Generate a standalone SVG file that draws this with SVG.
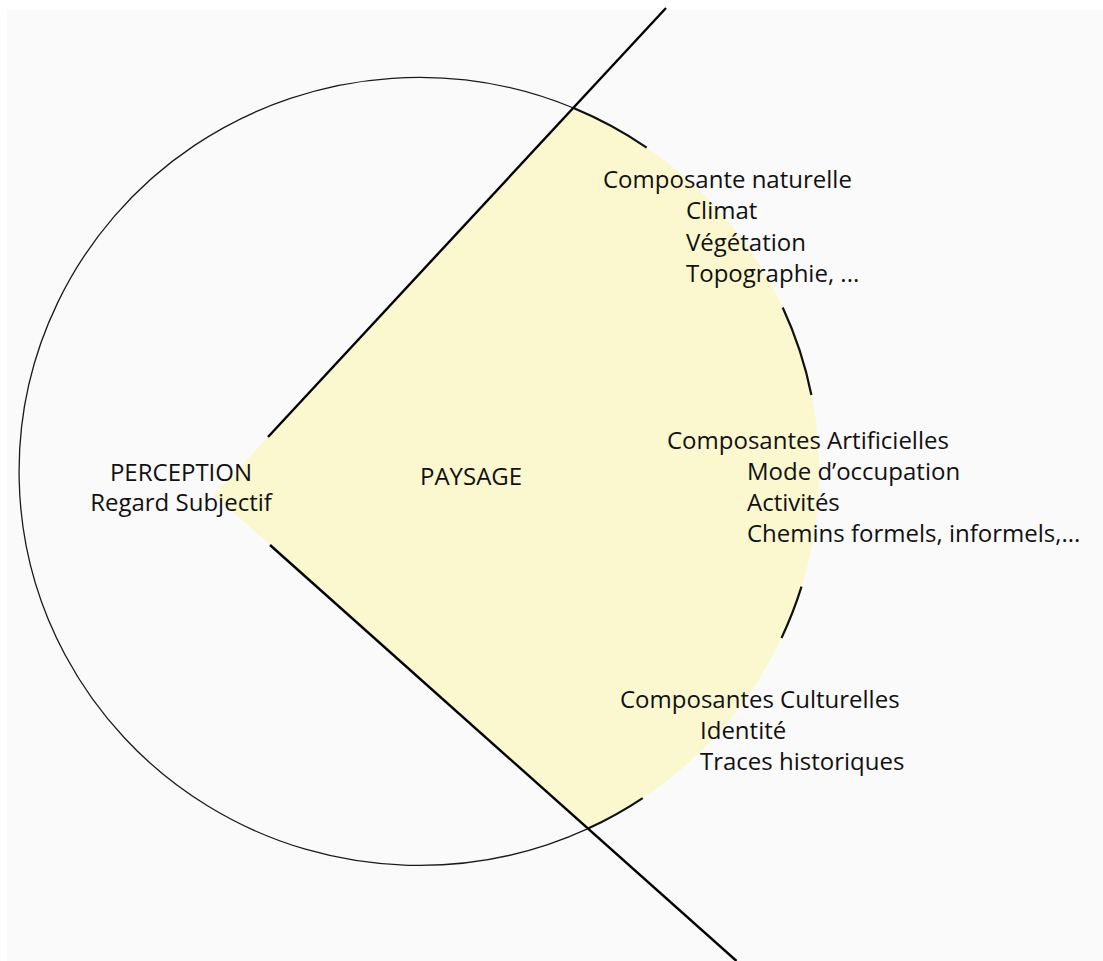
<svg xmlns="http://www.w3.org/2000/svg" width="1103" height="961" viewBox="0 0 1103 961">
  <style>
    .lbl { font-family: "Open Sans", "Liberation Sans", sans-serif; font-size: 24px; fill: #111; }
    .mid { text-anchor: middle; }
    .axis { stroke: #000; stroke-width: 2.4; fill: none; stroke-linecap: butt; }
    .thin { stroke: #1a1a1a; stroke-width: 1.3; fill: none; }
    .thick { stroke: #111; stroke-width: 2.2; fill: none; }
  </style>
  <rect x="0" y="0" width="1103" height="961" fill="#ffffff"/>
  <rect x="7" y="10" width="1096" height="951" fill="#fafafa"/>

  <g id="paysage-sector">
    <path d="M214,495 L573.5,108 A400,394 0 0,1 588,828.6 Z" fill="#fbf8cf"/>
  </g>

  <g id="perception-circle">
    <path class="thin" d="M588,828.6 A400,394 0 1,1 573.5,108"/>
    <path class="thick" d="M573.5,108 A400,394 0 0,1 646.7,147.6"/>
    <path class="thick" d="M782.7,307.5 A400,394 0 0,1 811.4,395"/>
    <path class="thick" d="M801.5,586.7 A400,394 0 0,1 781.5,638"/>
    <path class="thick" d="M642.7,798.1 A400,394 0 0,1 588,828.6"/>
  </g>

  <g id="connectors">
    <line class="axis" x1="268" y1="437" x2="666" y2="8"/>
    <line class="axis" x1="270" y1="545" x2="736.5" y2="961"/>
  </g>

  <g id="perception">
    <text class="lbl mid" x="181" y="481">PERCEPTION</text>
    <text class="lbl mid" x="181" y="511">Regard Subjectif</text>
  </g>

  <g id="paysage">
    <text class="lbl" x="420" y="485">PAYSAGE</text>
  </g>

  <g id="naturelle">
    <text class="lbl" x="603" y="187.5">Composante naturelle</text>
    <text class="lbl" x="686" y="219">Climat</text>
    <text class="lbl" x="686" y="250.5">Végétation</text>
    <text class="lbl" x="686" y="281.5">Topographie, ...</text>
  </g>

  <g id="artificielles">
    <text class="lbl" x="667" y="449">Composantes Artificielles</text>
    <text class="lbl" x="747" y="480">Mode d’occupation</text>
    <text class="lbl" x="747" y="511">Activités</text>
    <text class="lbl" x="747" y="542">Chemins formels, informels,...</text>
  </g>

  <g id="culturelles">
    <text class="lbl" x="620" y="708">Composantes Culturelles</text>
    <text class="lbl" x="700" y="739">Identité</text>
    <text class="lbl" x="700" y="770">Traces historiques</text>
  </g>
</svg>
